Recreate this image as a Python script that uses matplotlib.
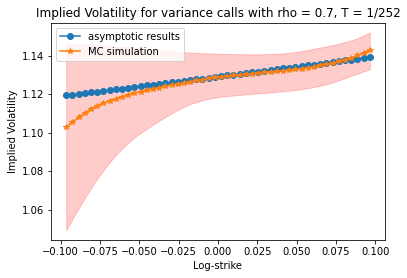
import numpy as np
import matplotlib
matplotlib.use("Agg")
import matplotlib.pyplot as plt

# log-strike grid (50 strikes)
log_strikes = np.linspace(-0.0965, 0.0965, 50)

# asymptotic implied vol
iv_asymptotic = [
    1.1195, 1.1199, 1.1203, 1.1207, 1.1211, 1.1214, 1.1218, 1.1222, 1.1226, 1.1230,
    1.1234, 1.1238, 1.1242, 1.1246, 1.1250, 1.1254, 1.1258, 1.1262, 1.1266, 1.1270,
    1.1274, 1.1278, 1.1282, 1.1286, 1.1290, 1.1294, 1.1298, 1.1302, 1.1306, 1.1310,
    1.1314, 1.1318, 1.1323, 1.1327, 1.1331, 1.1335, 1.1339, 1.1343, 1.1347, 1.1351,
    1.1355, 1.1360, 1.1364, 1.1368, 1.1372, 1.1376, 1.1380, 1.1385, 1.1389, 1.1393,
]

# Monte Carlo implied vol
iv_mc = [
    1.1030, 1.1055, 1.1081, 1.1102, 1.1123, 1.1140, 1.1154, 1.1167, 1.1178, 1.1188,
    1.1197, 1.1207, 1.1214, 1.1221, 1.1228, 1.1235, 1.1242, 1.1248, 1.1254, 1.1260,
    1.1266, 1.1272, 1.1277, 1.1283, 1.1288, 1.1292, 1.1295, 1.1298, 1.1302, 1.1305,
    1.1308, 1.1311, 1.1314, 1.1317, 1.1320, 1.1323, 1.1326, 1.1330, 1.1334, 1.1339,
    1.1344, 1.1350, 1.1356, 1.1363, 1.1371, 1.1379, 1.1389, 1.1402, 1.1416, 1.1431,
]

# MC confidence band
iv_mc_lower = [
    1.0494, 1.0552, 1.0607, 1.0661, 1.0713, 1.0761, 1.0805, 1.0846, 1.0884, 1.0918,
    1.0948, 1.0975, 1.0999, 1.1021, 1.1042, 1.1062, 1.1082, 1.1101, 1.1119, 1.1135,
    1.1149, 1.1160, 1.1169, 1.1177, 1.1183, 1.1188, 1.1191, 1.1194, 1.1197, 1.1200,
    1.1202, 1.1205, 1.1207, 1.1210, 1.1213, 1.1216, 1.1219, 1.1223, 1.1227, 1.1232,
    1.1238, 1.1245, 1.1253, 1.1262, 1.1273, 1.1284, 1.1296, 1.1307, 1.1319, 1.1331,
]
iv_mc_upper = [
    1.1465, 1.1463, 1.1461, 1.1459, 1.1457, 1.1455, 1.1453, 1.1451, 1.1449, 1.1447,
    1.1445, 1.1442, 1.1439, 1.1436, 1.1433, 1.1430, 1.1427, 1.1424, 1.1421, 1.1419,
    1.1417, 1.1415, 1.1414, 1.1413, 1.1412, 1.1411, 1.1410, 1.1409, 1.1409, 1.1408,
    1.1408, 1.1408, 1.1409, 1.1410, 1.1411, 1.1413, 1.1416, 1.1420, 1.1425, 1.1431,
    1.1437, 1.1443, 1.1449, 1.1456, 1.1463, 1.1472, 1.1481, 1.1492, 1.1506, 1.1521,
]

fig = plt.figure(figsize=(407 / 72, 278 / 72), dpi=72)
ax = fig.add_axes([0.1253, 0.1367, 0.8206, 0.7816])

ax.plot(log_strikes, iv_asymptotic, marker="o", label="asymptotic results")
ax.plot(log_strikes, iv_mc, marker="*", label="MC simulation")
ax.fill_between(log_strikes, iv_mc_lower, iv_mc_upper, color="red", alpha=0.2)

ax.set_title("Implied Volatility for variance calls with rho = 0.7, T = 1/252")
ax.set_xlabel("Log-strike")
ax.set_ylabel("Implied Volatility")
ax.legend(loc="upper left")

fig.savefig("out.png", dpi=72)
